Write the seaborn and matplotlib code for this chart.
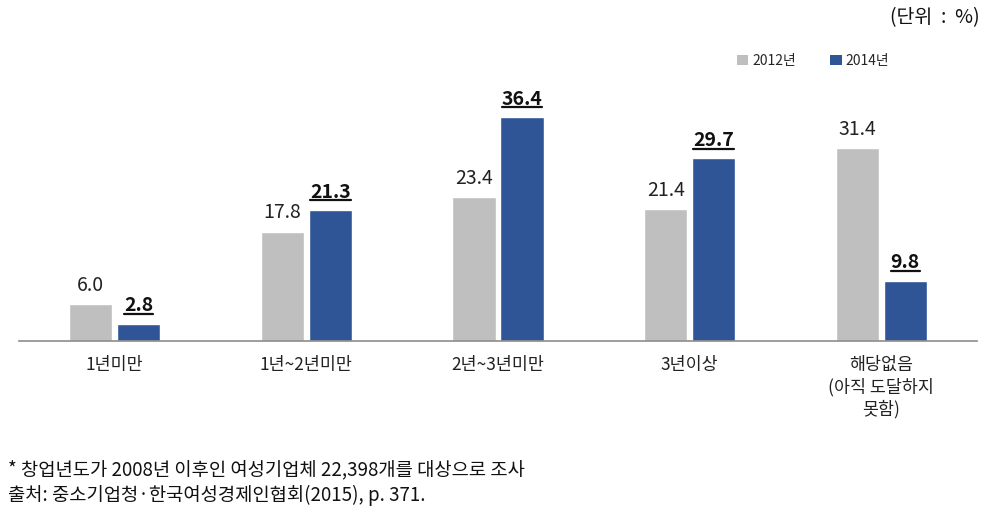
import matplotlib
matplotlib.use("Agg")
import matplotlib.pyplot as plt
import seaborn as sns
import pandas as pd
from matplotlib.lines import Line2D
from matplotlib.patches import Patch

categories = ["1년미만", "1년~2년미만", "2년~3년미만", "3년이상", "해당없음\n(아직 도달하지\n못함)"]
series_names = ["2012년", "2014년"]
values_2012 = [6.0, 17.8, 23.4, 21.4, 31.4]
values_2014 = [2.8, 21.3, 36.4, 29.7, 9.8]
colors = ["#BFBFBF", "#2F5597"]

sns.set_theme(style="white")
plt.rcParams['font.family'] = ['Noto Sans CJK KR', 'DejaVu Sans']

df = pd.DataFrame({
    "cat": categories * 2,
    "year": [series_names[0]] * len(categories) + [series_names[1]] * len(categories),
    "val": values_2012 + values_2014,
})

fig = plt.figure(figsize=(9.93, 5.26), dpi=100)
ax = fig.add_axes([19/993, 1 - 341/526, (977 - 19)/993, 246/526])

sns.barplot(data=df, x="cat", y="val", hue="year", palette=colors, order=categories,
            hue_order=series_names, width=0.5, gap=0.1, ax=ax, saturation=1, legend=False)

ax.set_ylim(0, 40)
ax.set_xlim(-0.5, len(categories) - 0.5)
ax.set_xlabel("")
ax.set_ylabel("")
ax.set_yticks([])
for s in ["top", "right", "left"]:
    ax.spines[s].set_visible(False)
ax.spines["bottom"].set_color("#8C8C8C")
ax.spines["bottom"].set_linewidth(1.2)

ax.set_xticks(range(len(categories)))
ax.set_xticklabels(categories, fontsize=12.5, color="#222222", linespacing=1.25)
ax.tick_params(axis="x", which="major", length=0, pad=11)
ax.set_xticks([i - 0.5 for i in range(len(categories) + 1)], minor=True)
ax.tick_params(axis="x", which="minor", length=5, width=1, color="#8C8C8C", direction="out")

gray_labels = ax.bar_label(ax.containers[0], fmt="%.1f", padding=6, fontsize=14, color="#222222")
blue_labels = ax.bar_label(ax.containers[1], fmt="%.1f", padding=6, fontsize=14,
                           fontweight="bold", color="#111111")

# underline bold labels
fig.canvas.draw()
renderer = fig.canvas.get_renderer()
for t in blue_labels:
    bb = t.get_window_extent(renderer)
    y = bb.y0 + 1.5
    fig.add_artist(Line2D([bb.x0, bb.x1], [y, y], transform=None, color="#111111", linewidth=1.6))

handles = [Patch(facecolor=c, edgecolor="none") for c in colors]
fig.legend(handles, series_names, loc="center", bbox_to_anchor=(813/993, 1 - 61/526), ncol=2,
           frameon=False, fontsize=10, handlelength=0.8, handleheight=0.8, handletextpad=0.3,
           columnspacing=2.5)

fig.text(980/993, 1 - 18/526, "(단위  :  %)", ha="right", va="center", fontsize=14, color="#111111")

fig.text(8/993, 1 - 470/526, "* 창업년도가 2008년 이후인 여성기업체 22,398개를 대상으로 조사",
         ha="left", va="center", fontsize=13.5, color="#111111")
fig.text(8/993, 1 - 495/526, "출처: 중소기업청·한국여성경제인협회(2015), p. 371.",
         ha="left", va="center", fontsize=13.5, color="#111111")

fig.savefig("out.png", dpi=100)
